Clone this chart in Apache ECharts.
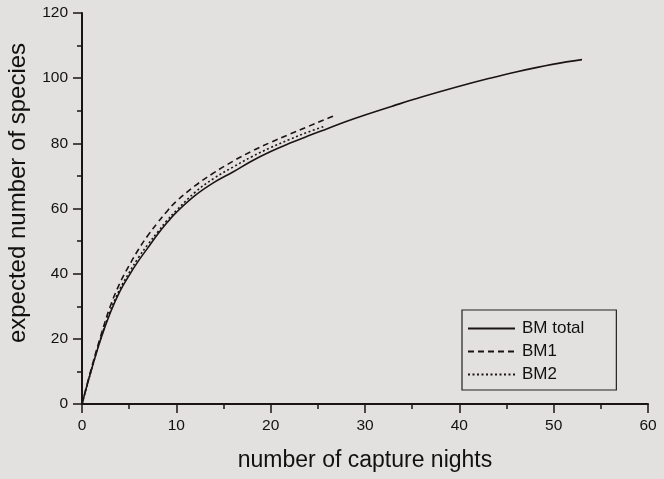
<!DOCTYPE html>
<html>
<head>
<meta charset="utf-8">
<style>
  html, body { margin: 0; padding: 0; background: #e3e1df; }
  #chart { width: 664px; height: 479px; }
</style>
<script src="https://cdn.jsdelivr.net/npm/echarts@6/dist/echarts.min.js"></script>
</head>
<body>
<div id="chart"></div>
<script>
// Species accumulation curves: expected species vs. capture nights
const seriesNames = ['BM total', 'BM1', 'BM2'];

const bmTotalNights = [0, 1, 2, 3, 4, 5, 6, 7, 8, 9, 10, 12, 14, 16, 18, 20, 22, 24, 26, 28, 30, 33, 36, 40, 43, 46, 50, 53];
const bmTotalSpecies = [0, 10.5, 20, 28, 34.5, 39.5, 44, 48, 52, 55.6, 58.8, 64, 68, 71.2, 74.6, 77.5, 80, 82.3, 84.5, 86.7, 88.7, 91.5, 94.2, 97.5, 99.8, 101.9, 104.3, 105.7];

const bm1Nights = [0, 1, 2, 3, 4, 5, 6, 7, 8, 9, 10, 12, 14, 16, 18, 20, 22, 24, 26, 27];
const bm1Species = [0, 11, 21, 30, 37, 42.5, 47.5, 51.8, 55.6, 59.1, 62.2, 67, 71, 74.5, 77.6, 80.3, 82.8, 85.2, 87.6, 88.8];

const bm2Nights = [0, 1, 2, 3, 4, 5, 6, 7, 8, 9, 10, 12, 14, 16, 18, 20, 22, 24, 25.7];
const bm2Species = [0, 10.5, 20.3, 28.6, 35.2, 40.3, 45, 49, 52.7, 56.3, 59.4, 65, 69.3, 72.7, 75.9, 78.7, 81.2, 83.5, 85.2];

const xTicks = { min: 0, max: 60, step: 10 };
const yTicks = { min: 0, max: 120, step: 20 };

const ink = '#1b1414';
const font = '"Liberation Sans", Arial, Helvetica, sans-serif';

function pairs(xs, ys) {
  return xs.map((x, i) => [x, ys[i]]);
}

function axisCommon(ticks) {
  return {
    type: 'value',
    min: ticks.min,
    max: ticks.max,
    interval: ticks.step,
    axisLine: { show: true, lineStyle: { color: ink, width: 2 } },
    axisTick: { show: true, inside: false, length: 9, lineStyle: { color: ink, width: 1.5 } },
    minorTick: { show: true, splitNumber: 2, length: 5, lineStyle: { color: ink, width: 1.5 } },
    splitLine: { show: false },
    axisLabel: { color: '#111', fontSize: 15.5, fontFamily: font, margin: 14 }
  };
}

const lineStyles = [
  { type: 'solid' },
  { type: [6, 4] },
  { type: [2, 2.5] }
];

const dataSets = [
  pairs(bmTotalNights, bmTotalSpecies),
  pairs(bm1Nights, bm1Species),
  pairs(bm2Nights, bm2Species)
];

const chart = echarts.init(document.getElementById('chart'), null, { renderer: 'canvas' });

chart.setOption({
  backgroundColor: '#e3e1df',
  animation: false,
  grid: { left: 82, right: 16, top: 13, bottom: 75 },
  xAxis: Object.assign(axisCommon(xTicks), {
    name: 'number of capture nights',
    nameLocation: 'middle',
    nameGap: 45,
    nameTextStyle: { color: '#111', fontSize: 23, fontFamily: font }
  }),
  yAxis: axisCommon(yTicks),
  legend: {
    data: seriesNames,
    orient: 'vertical',
    left: 462,
    top: 310,
    itemWidth: 47,
    itemHeight: 14,
    itemGap: 6,
    padding: [10, 32, 7, 5],
    borderColor: '#222',
    borderWidth: 1.2,
    backgroundColor: 'transparent',
    itemStyle: { opacity: 0 },
    textStyle: { color: '#111', fontSize: 17, fontFamily: font, padding: [0, 0, 0, 2] }
  },
  graphic: [{
    type: 'text',
    x: 18,
    y: 193,
    rotation: Math.PI / 2,
    style: {
      text: 'expected number of species',
      fill: '#111',
      fontSize: 24,
      fontFamily: font,
      align: 'center',
      verticalAlign: 'middle'
    }
  }],
  series: seriesNames.map((name, i) => ({
    name: name,
    type: 'line',
    data: dataSets[i],
    symbol: 'none',
    smooth: 0.4,
    z: 3 - i,
    lineStyle: Object.assign({ color: ink, width: 1.6 }, lineStyles[i]),
    itemStyle: { color: ink }
  }))
});
</script>
</body>
</html>
